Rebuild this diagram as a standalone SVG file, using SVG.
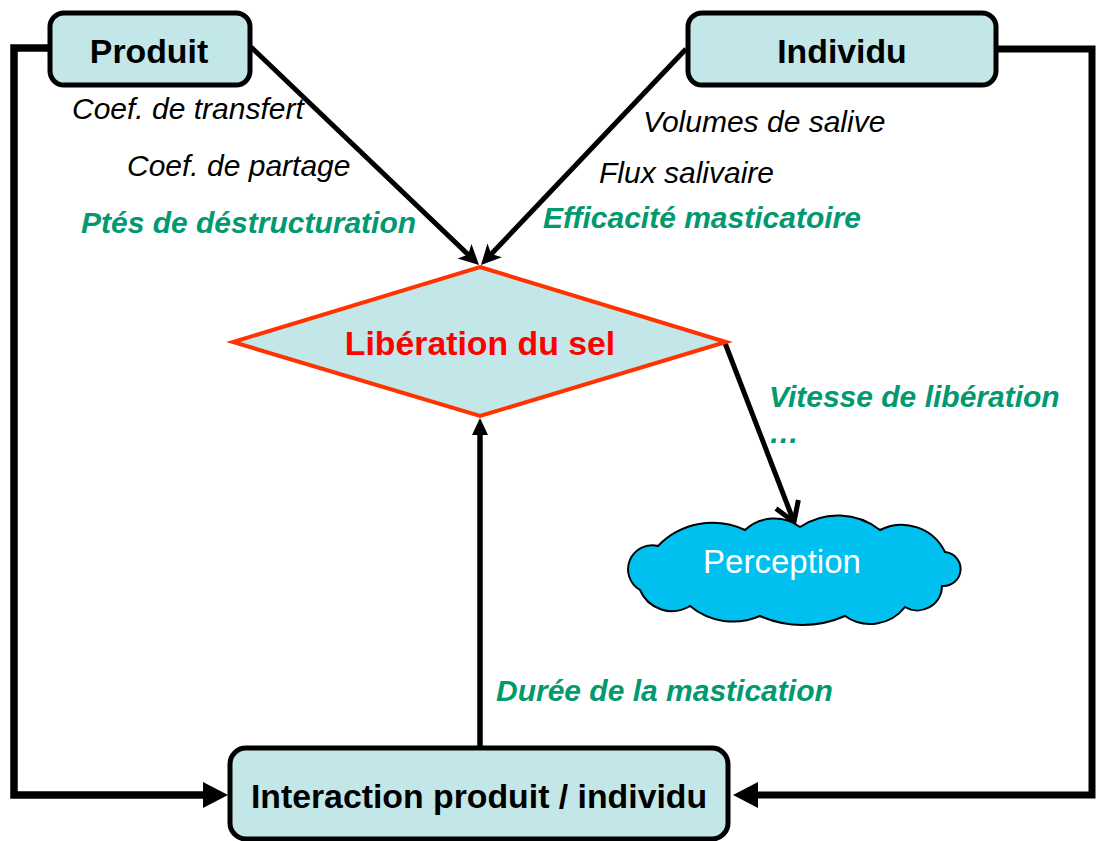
<svg xmlns="http://www.w3.org/2000/svg" width="1097" height="841" viewBox="0 0 1097 841">
  <style>
    .box { fill: #c3e6e8; stroke: #000; stroke-width: 5; }
    .conn { fill: none; stroke: #000; stroke-linejoin: miter; stroke-linecap: butt; }
    .t { font-family: "Liberation Sans", Arial, sans-serif; }
    .node { font-size: 33.8px; font-weight: bold; fill: #000; text-anchor: middle; }
    .it { font-size: 30px; font-style: italic; fill: #000; }
    .gr { font-size: 30px; font-style: italic; font-weight: bold; fill: #009970; }
  </style>
  <defs>
    <marker id="headBig" markerUnits="userSpaceOnUse" viewBox="0 0 25 26" refX="0" refY="13" markerWidth="25" markerHeight="26" orient="auto" overflow="visible">
      <path d="M0,0 L25,13 L0,26 z" fill="#000"/>
    </marker>
    <marker id="headMid" markerUnits="userSpaceOnUse" viewBox="0 0 17 16" refX="0" refY="8" markerWidth="17" markerHeight="16" orient="auto" overflow="visible">
      <path d="M0,0 L17,8 L0,16 z" fill="#000"/>
    </marker>
    <marker id="headNotch" markerUnits="userSpaceOnUse" viewBox="0 -10 20 20" refX="6" refY="0" markerWidth="20" markerHeight="20" orient="auto" overflow="visible">
      <path d="M0,-10 L20,0 L0,10 L5,0 z" fill="#000"/>
    </marker>
    <marker id="headOpen" markerUnits="userSpaceOnUse" viewBox="-22 -14 26 28" refX="0" refY="0" markerWidth="26" markerHeight="28" orient="auto" overflow="visible">
      <path d="M-19,-12 L0,0 L-19,12" fill="none" stroke="#000" stroke-width="5" stroke-linejoin="miter"/>
    </marker>
  </defs>

  <g id="connectors">
    <path class="conn" d="M50,48 H14 V795 H203" stroke-width="7.5" marker-end="url(#headBig)"/>
    <path class="conn" d="M996,49 H1092 V795 H758" stroke-width="7" marker-end="url(#headBig)"/>
    <path class="conn" d="M251,47 L468.9,255.3" stroke-width="5" marker-end="url(#headNotch)"/>
    <path class="conn" d="M686,49 L490.6,254.8" stroke-width="5" marker-end="url(#headNotch)"/>
    <path class="conn" d="M480,746 V435" stroke-width="5.5" marker-end="url(#headMid)"/>
    <path class="conn" d="M725,343 L794,522" stroke-width="5" marker-end="url(#headOpen)"/>
  </g>

  <g id="produit">
    <rect class="box" x="50" y="13" width="200" height="72" rx="14"/>
    <text class="t node" x="149" y="63">Produit</text>
  </g>

  <g id="individu">
    <rect class="box" x="688" y="13" width="308" height="72" rx="14"/>
    <text class="t node" x="842" y="63">Individu</text>
  </g>

  <g id="liberation">
    <polygon points="480,267 726,342 480,416 233,342" fill="#c3e6e8" stroke="#ff3300" stroke-width="4"/>
    <text class="t" x="480" y="355" font-size="33.8px" font-weight="bold" fill="#ff0000" text-anchor="middle">Libération du sel</text>
  </g>

  <g id="perception">
    <path d="M658,546 A76,76 0 0 1 745,530 A43,43 0 0 1 800,527 A68,68 0 0 1 880,530 A48,48 0 0 1 945,552 A17,17 0 0 1 942,586 A24.5,24.5 0 0 1 905,607 A44,44 0 0 1 845,616 A105,105 0 0 1 760,616 A67.5,67.5 0 0 1 690,606 A34.7,34.7 0 0 1 640,590 A24,24 0 0 1 658,546 z" fill="#00c0f0" stroke="#000" stroke-width="2"/>
    <text class="t" x="782" y="573" font-size="33px" fill="#ffffff" text-anchor="middle">Perception</text>
  </g>

  <g id="interaction">
    <rect class="box" x="230" y="748" width="498" height="91" rx="16"/>
    <text class="t node" x="479" y="808" font-size="34.3px">Interaction produit / individu</text>
  </g>

  <g id="labels">
    <text class="t it" x="72" y="119">Coef. de transfert</text>
    <text class="t it" x="127" y="176">Coef. de partage</text>
    <text class="t gr" x="81" y="233">Ptés de déstructuration</text>
    <text class="t it" x="643" y="132">Volumes de salive</text>
    <text class="t it" x="599" y="183">Flux salivaire</text>
    <text class="t gr" x="543" y="228">Efficacité masticatoire</text>
    <text class="t gr" x="769" y="407">Vitesse de libération</text>
    <text class="t gr" x="769" y="443">…</text>
    <text class="t gr" x="496" y="701">Durée de la mastication</text>
  </g>
</svg>
